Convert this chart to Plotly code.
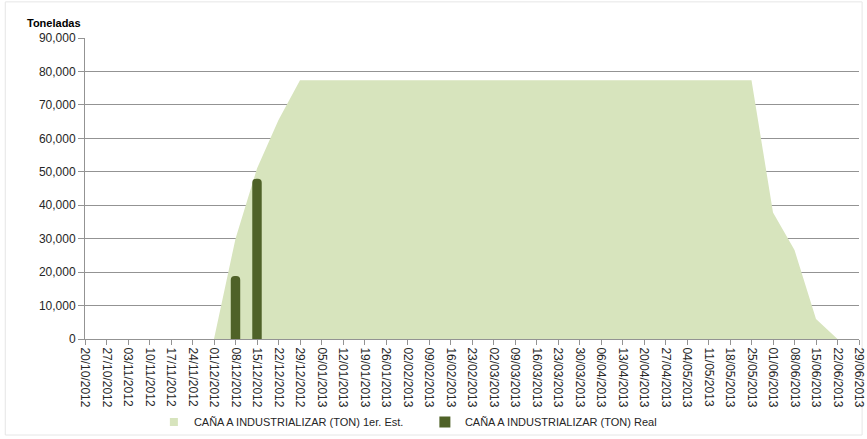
import plotly.graph_objects as go

dates = ["20/10/2012", "27/10/2012", "03/11/2012", "10/11/2012", "17/11/2012", "24/11/2012",
         "01/12/2012", "08/12/2012", "15/12/2012", "22/12/2012", "29/12/2012", "05/01/2013",
         "12/01/2013", "19/01/2013", "26/01/2013", "02/02/2013", "09/02/2013", "16/02/2013",
         "23/02/2013", "02/03/2013", "09/03/2013", "16/03/2013", "23/03/2013", "30/03/2013",
         "06/04/2013", "13/04/2013", "20/04/2013", "27/04/2013", "04/05/2013", "11/05/2013",
         "18/05/2013", "25/05/2013", "01/06/2013", "08/06/2013", "15/06/2013", "22/06/2013",
         "29/06/2013"]

estimado = [None, None, None, None, None, None,
            0, 30000, 51000, 65500, 77400, 77400,
            77400, 77400, 77400, 77400, 77400, 77400,
            77400, 77400, 77400, 77400, 77400, 77400,
            77400, 77400, 77400, 77400, 77400, 77400,
            77400, 77400, 37800, 26600, 6000, 0,
            None]

real = [None] * 7 + [18800, 47900] + [None] * 28

y_ticks = [0, 10000, 20000, 30000, 40000, 50000, 60000, 70000, 80000, 90000]

name_est = "CAÑA A INDUSTRIALIZAR (TON) 1er. Est."
name_real = "CAÑA A INDUSTRIALIZAR (TON) Real"

color_est = "#d7e4bd"
color_real = "#4f6228"
font_family = "Liberation Sans, Arial, sans-serif"
grid_color = "#939393"

fig = go.Figure()
fig.add_trace(go.Scatter(
    x=dates, y=estimado, name=name_est, mode="lines",
    line=dict(width=0, color=color_est), fill="tozeroy", fillcolor=color_est,
    connectgaps=False, xaxis="x", yaxis="y", showlegend=False,
))
fig.add_trace(go.Bar(
    x=dates, y=real, name=name_real,
    marker=dict(color=color_real, cornerradius=4, line=dict(width=0)),
    width=0.44, xaxis="x", yaxis="y2", showlegend=False,
))
# legend entries (square swatches)
fig.add_trace(go.Scatter(x=[None], y=[None], mode="markers", name=name_est,
                         marker=dict(symbol="square", size=8, color=color_est)))
fig.add_trace(go.Scatter(x=[None], y=[None], mode="markers", name=name_real,
                         marker=dict(symbol="square", size=11, color=color_real)))

fig.update_layout(
    width=867, height=439,
    margin=dict(l=85, r=8, t=38, b=100, autoexpand=False),
    paper_bgcolor="white", plot_bgcolor="white",
    font=dict(family=font_family, size=12, color="#262626"),
    showlegend=True,
    legend=dict(orientation="h", x=0.089, xanchor="left", y=-0.276, yanchor="middle",
                font=dict(size=11, color="#262626"), entrywidth=226, entrywidthmode="pixels",
                itemwidth=30, traceorder="normal", bgcolor="rgba(0,0,0,0)"),
    xaxis=dict(type="category", range=[0, 36], tickangle=90, tickfont=dict(size=12),
               showgrid=False, showline=True, linecolor=grid_color, linewidth=1,
               ticks="outside", ticklen=5, tickcolor=grid_color, zeroline=False,
               automargin=False),
    yaxis=dict(range=[0, 90000], tickvals=y_ticks, tickformat=",", tickfont=dict(size=12),
               showgrid=True, gridcolor=grid_color, gridwidth=1, showline=True,
               linecolor=grid_color, ticks="outside", ticklen=6, tickcolor=grid_color,
               zeroline=False, automargin=False),
    yaxis2=dict(range=[0, 90000], overlaying="y", visible=False, showgrid=False),
    annotations=[dict(text="<b>Toneladas</b>", xref="paper", yref="paper", x=-0.077, y=1.05,
                      xanchor="left", yanchor="middle", showarrow=False,
                      font=dict(size=11, color="#000000"))],
    shapes=[dict(type="rect", xref="paper", yref="paper", x0=-0.103, x1=1.004, y0=-0.319, y1=1.12,
                 line=dict(color="#e6e6e6", width=1), fillcolor="rgba(0,0,0,0)", layer="below")],
)

fig.write_html("out.html", config={"displayModeBar": False})

# remove default page margin so the figure sits at the window's top-left corner
with open("out.html", "r", encoding="utf-8") as f:
    html = f.read()
html = html.replace("<head>", "<head><style>html,body{margin:0;padding:0;overflow:hidden;}</style>", 1)
with open("out.html", "w", encoding="utf-8") as f:
    f.write(html)
